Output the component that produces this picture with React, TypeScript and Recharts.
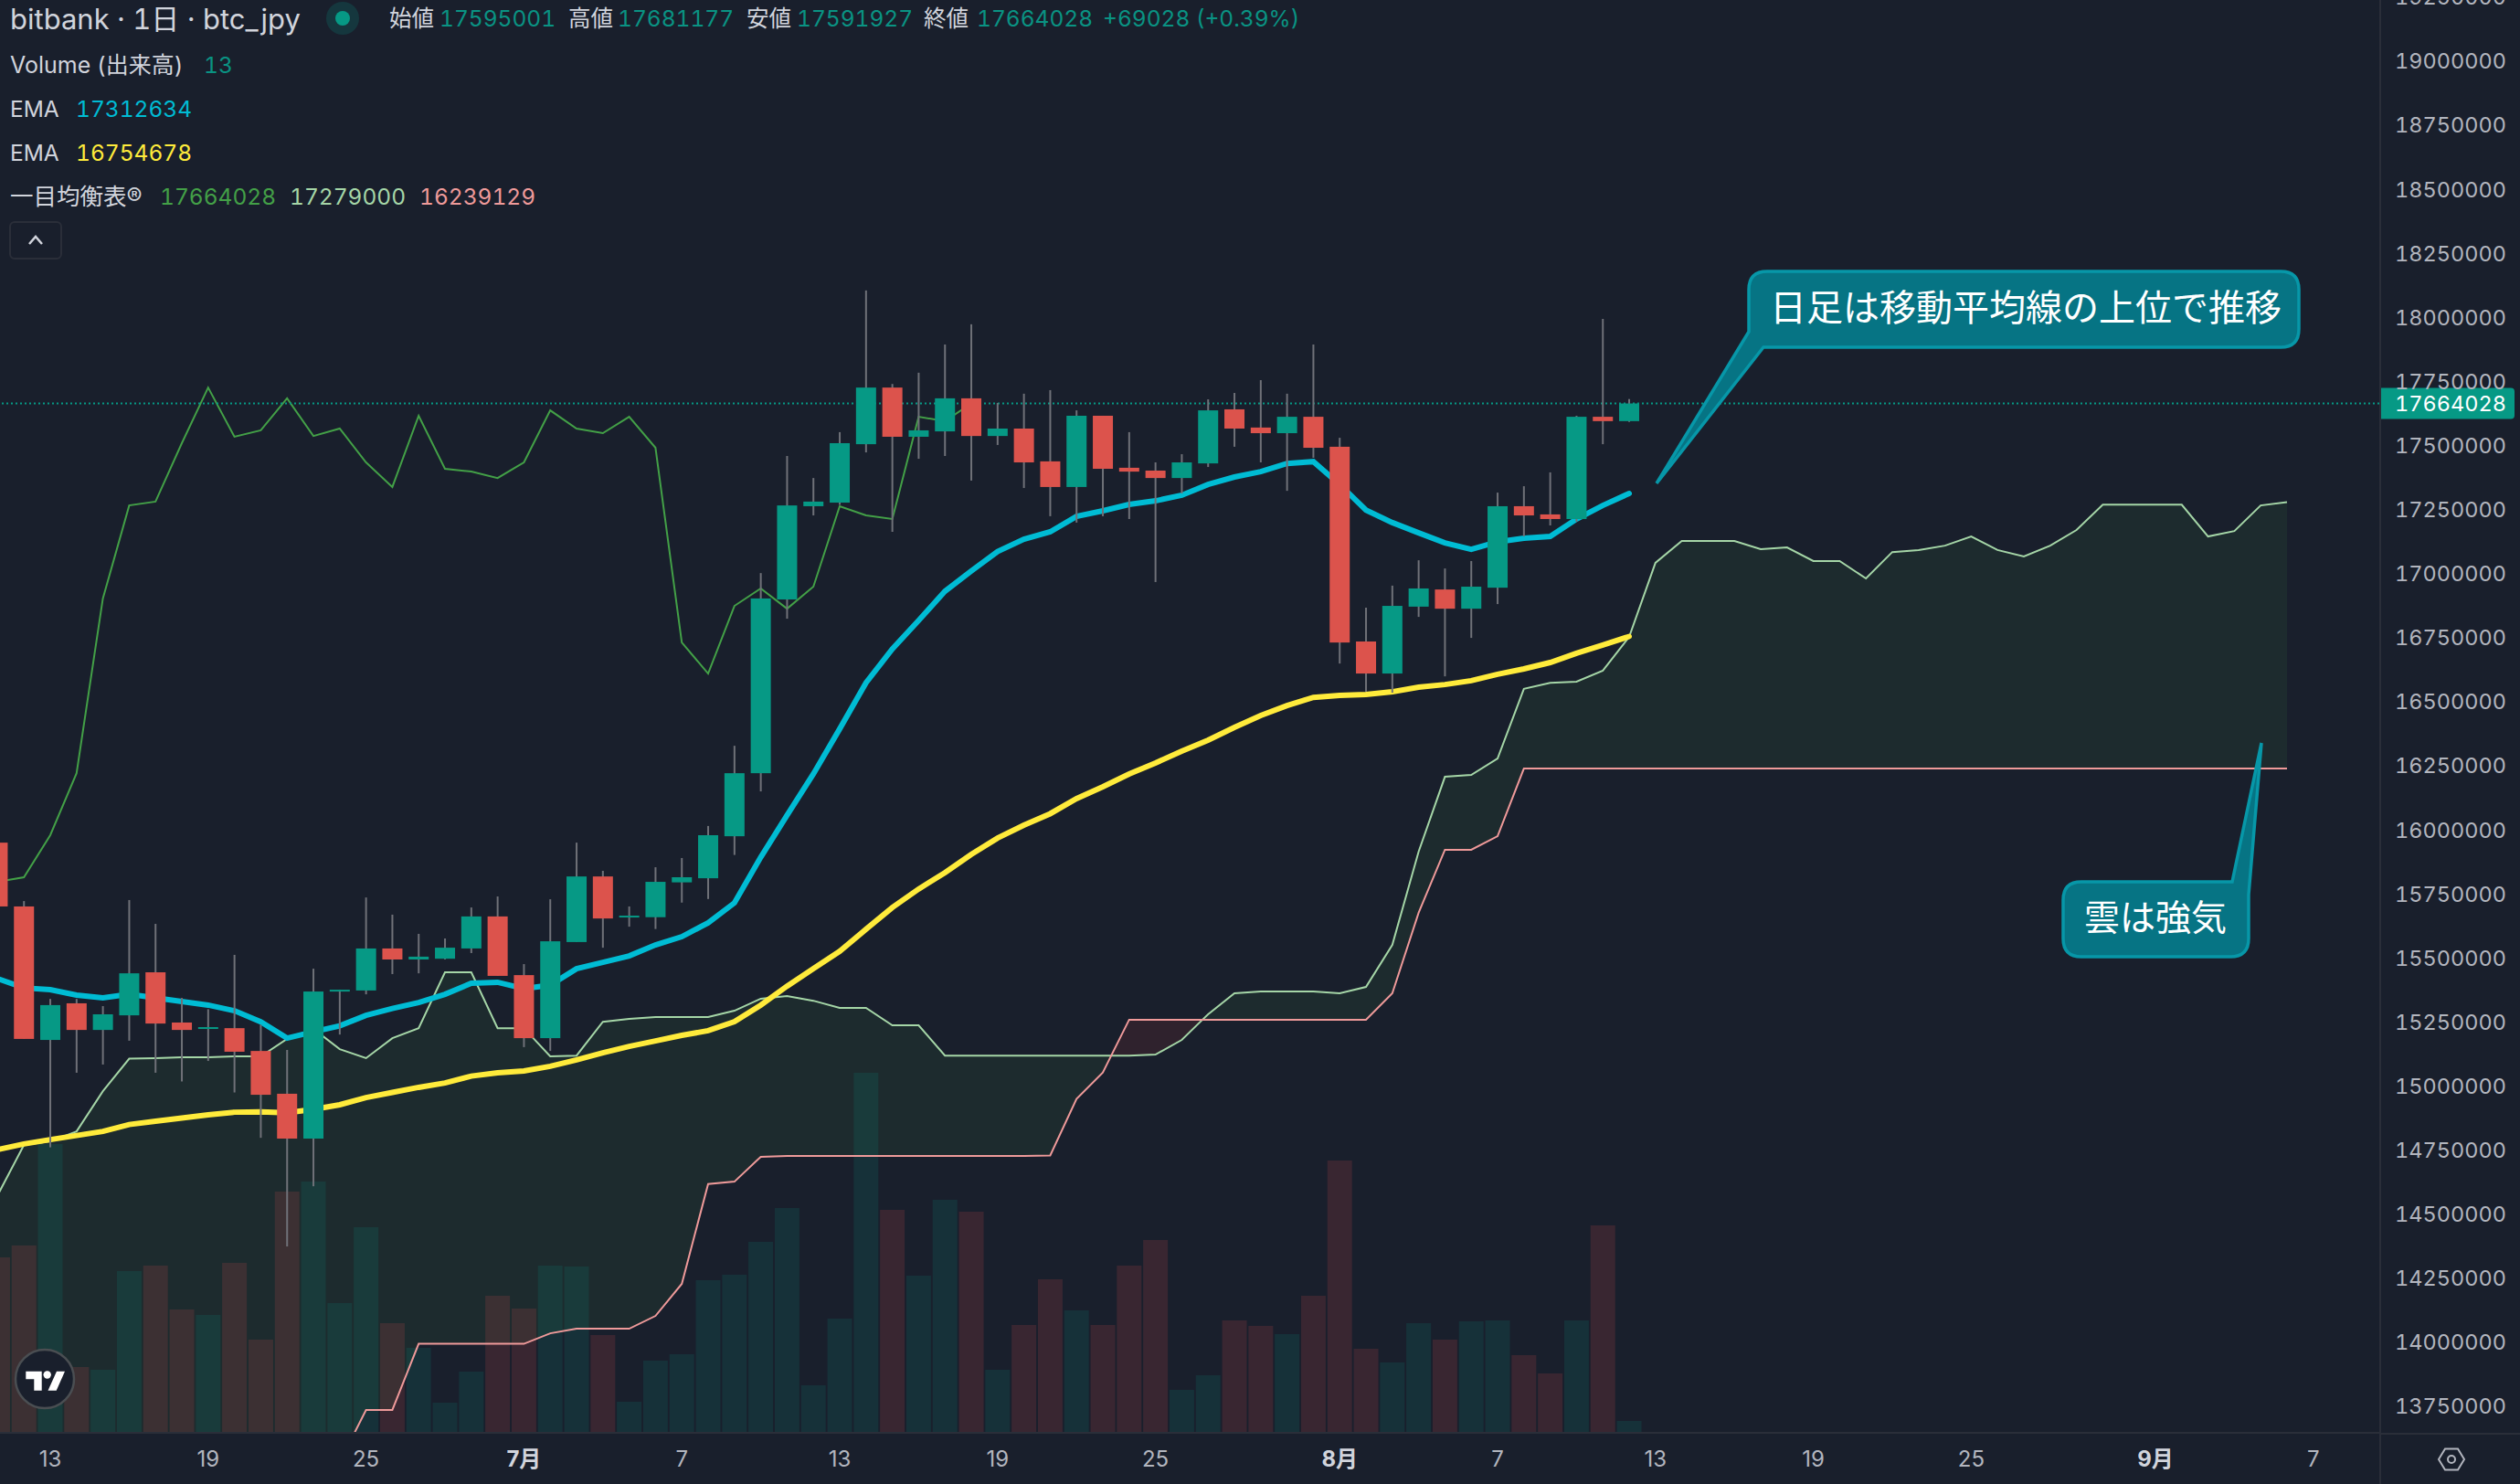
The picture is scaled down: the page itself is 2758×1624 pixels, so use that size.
import { Area, Bar, ComposedChart, Line, ReferenceLine, XAxis, YAxis } from 'recharts';

const FONT = "Inter, 'Noto Sans CJK JP', sans-serif";
const BG = '#191f2c';
const GRID = '#2a2e39';
const UP = '#069985';
const DOWN = '#dc534c';
const AXIS_TEXT = '#b2b5be';
const CANDLE_W = 22;
const VOLUME_W = 27;

// prices are in thousands of yen. every per-day list starts at FIRST_DAY, day 0 = June 13
const FIRST_DAY = -2;
const LAST_PRICE = 17664.028;

// [open, high, low, close]
const ohlc = [
  [15950, 15960, 15701, 15701], [15701, 15722, 15184, 15184], [15180, 15340, 14761, 15316], [15323, 15340, 15052, 15219],
  [15219, 15312, 15084, 15280], [15276, 15726, 15177, 15440], [15444, 15633, 15052, 15244], [15248, 15344, 15018, 15219],
  [15223, 15300, 15098, 15230], [15226, 15512, 14975, 15134], [15137, 15239, 14798, 14966], [14970, 15141, 14374, 14795],
  [14795, 15458, 14609, 15369], [15369, 15376, 15201, 15376], [15373, 15736, 15358, 15537], [15537, 15669, 15437, 15494],
  [15494, 15594, 15440, 15505], [15497, 15576, 15494, 15540], [15537, 15697, 15519, 15662], [15662, 15740, 15430, 15430],
  [15433, 15476, 15152, 15187], [15187, 15729, 15137, 15565], [15562, 15950, 15562, 15818], [15818, 15840, 15540, 15654],
  [15658, 15701, 15622, 15665], [15659, 15854, 15613, 15797], [15795, 15890, 15716, 15815], [15811, 16015, 15730, 15979],
  [15975, 16328, 15902, 16221], [16221, 17002, 16150, 16903], [16899, 17459, 16824, 17266], [17263, 17373, 17227, 17281],
  [17277, 17552, 17268, 17509], [17505, 18105, 17473, 17726], [17726, 17740, 17163, 17534], [17534, 17784, 17448, 17559],
  [17555, 17894, 17459, 17684], [17684, 17973, 17363, 17537], [17537, 17666, 17502, 17566], [17566, 17702, 17334, 17434],
  [17438, 17716, 17224, 17338], [17338, 17637, 17199, 17616], [17616, 17616, 17224, 17409], [17413, 17552, 17213, 17398],
  [17402, 17434, 16967, 17373], [17373, 17466, 17313, 17434], [17430, 17680, 17416, 17637], [17641, 17705, 17495, 17566],
  [17570, 17755, 17434, 17548], [17548, 17702, 17323, 17612], [17612, 17894, 17452, 17491], [17495, 17530, 16649, 16731],
  [16735, 16867, 16539, 16610], [16610, 16953, 16535, 16874], [16871, 17052, 16831, 16942], [16938, 17020, 16599, 16863],
  [16863, 17049, 16749, 16949], [16945, 17316, 16881, 17263], [17263, 17341, 17145, 17227], [17231, 17395, 17188, 17213],
  [17213, 17616, 17202, 17612], [17612, 17994, 17505, 17595], [17595.001, 17681.177, 17591.927, 17664.028],
];

const volume = [
  192, 205, 316, 72, 69, 177, 183, 135, 129, 186, 102, 264, 275, 142, 225, 120, 93, 33, 67, 150, 136,
  183, 182, 107, 34, 79, 86, 167, 173, 209, 246, 52, 125, 394, 244, 172, 255, 242, 69, 118, 168, 134,
  118, 183, 211, 47, 63, 123, 117, 108, 150, 298, 92, 77, 120, 102, 122, 123, 85, 65, 123, 227, 13,
];

const emaFast = [
  15419, 15383, 15376, 15355, 15344, 15358, 15344, 15330, 15316, 15294, 15251, 15187, 15212, 15235, 15276, 15303,
  15326, 15358, 15401, 15405, 15380, 15394, 15458, 15483, 15508, 15551, 15583, 15637, 15715, 15893, 16057, 16218,
  16394, 16574, 16706, 16817, 16931, 17010, 17086, 17134, 17163, 17223, 17245, 17270, 17284, 17306, 17348, 17377,
  17398, 17430, 17437, 17348, 17248, 17199, 17159, 17120, 17095, 17124, 17138, 17145, 17213, 17266, 17312.634,
];

const emaSlow = [
  14752, 14774, 14791, 14807, 14823, 14850, 14863, 14875, 14888, 14898, 14899, 14896, 14909, 14927, 14955, 14975,
  14995, 15012, 15039, 15052, 15059, 15077, 15102, 15130, 15155, 15176, 15198, 15216, 15251, 15316, 15390, 15458,
  15526, 15612, 15697, 15769, 15833, 15904, 15968, 16018, 16063, 16122, 16168, 16218, 16261, 16307, 16350, 16400,
  16446, 16485, 16517, 16525, 16528, 16539, 16557, 16567, 16582, 16607, 16628, 16653, 16689, 16721, 16754.678,
];

const chikou = [
  15797, 15815, 15979, 16221, 16903, 17266, 17281, 17509, 17726, 17534, 17559, 17684, 17537, 17566, 17434, 17338,
  17616, 17409, 17398, 17373, 17434, 17637, 17566, 17548, 17612, 17491, 16731, 16610, 16874, 16942, 16863, 16949,
  17263, 17227, 17213, 17612, 17595, 17664.028,
];

const spanA = [
  14574, 14770, 14784, 14823, 14980, 15107, 15109, 15112, 15112, 15116, 15116, 15184, 15223, 15144, 15109, 15187,
  15226, 15444, 15444, 15226, 15226, 15116, 15119, 15251, 15262, 15269, 15269, 15269, 15294, 15341, 15351, 15333,
  15305, 15305, 15237, 15237, 15119, 15119, 15119, 15119, 15119, 15119, 15119, 15119, 15123, 15180, 15280, 15362,
  15369, 15369, 15369, 15362, 15387, 15551, 15915, 16207, 16214, 16278, 16550, 16574, 16578, 16621, 16753, 17042,
  17127, 17127, 17127, 17095, 17102, 17049, 17049, 16981, 17084, 17092, 17109, 17145, 17092, 17067, 17109, 17170,
  17269, 17269, 17269, 17269, 17145, 17166, 17266, 17279,
];

const spanB = [
  13300, 13300, 13300, 13300, 13300, 13300, 13300, 13300, 13300, 13300, 13300, 13300, 13300, 13532, 13736, 13736,
  13994, 13994, 13994, 13994, 13994, 14035, 14053, 14053, 14053, 14103, 14228, 14618, 14627, 14724, 14727, 14727,
  14727, 14727, 14727, 14727, 14727, 14727, 14727, 14727, 14729, 14950, 15053, 15259, 15259, 15259, 15259, 15259,
  15259, 15259, 15259, 15259, 15259, 15362, 15676, 15922, 15922, 15975, 16239, 16239, 16239, 16239, 16239, 16239,
  16239, 16239, 16239, 16239, 16239, 16239, 16239, 16239, 16239, 16239, 16239, 16239, 16239, 16239, 16239, 16239,
  16239, 16239, 16239, 16239, 16239, 16239, 16239, 16239,
];

// where the two spans cross, so the cloud can change colour there
const crossDays = [40.32, 43.786];
const crossPrices = [15119, 15259];

const priceTicks = [
  13750, 14000, 14250, 14500, 14750, 15000, 15250, 15500, 15750, 16000, 16250, 16500,
  16750, 17000, 17250, 17500, 17750, 18000, 18250, 18500, 18750, 19000, 19250,
];
const tickDays = [0, 6, 12, 18, 24, 30, 36, 42, 49, 55, 61, 67, 73, 80, 86];
const tickLabels = ['13', '19', '25', '7月', '7', '13', '19', '25', '8月', '7', '13', '19', '25', '9月', '7'];

const rows: any[] = spanA.map((a, i) => {
  const day = i + FIRST_DAY;
  const b = spanB[i];
  const c = ohlc[i];
  return {
    day,
    spanA: a,
    spanB: b,
    cloudUp: a >= b ? [b, a] : null,
    cloudDown: a < b ? [a, b] : null,
    chikou: chikou[i] ?? null,
    emaFast: emaFast[i] ?? null,
    emaSlow: emaSlow[i] ?? null,
    volume: volume[i] ?? null,
    open: c ? c[0] : null,
    high: c ? c[1] : null,
    low: c ? c[2] : null,
    close: c ? c[3] : null,
    wick: c ? [c[2], c[1]] : null,
  };
});
crossDays.forEach((day, i) => {
  const v = crossPrices[i];
  rows.push({ day, spanA: v, spanB: v, cloudUp: [v, v], cloudDown: [v, v] });
});
rows.sort((p, q) => p.day - q.day);

// wick + body, both taken from the bar the price scale gave us.
// the crossing rows shrink the band recharts works out, so widths are fixed here
const Candle = (props: any) => {
  const { x, y, width, height, payload } = props;
  if (payload.open == null) return null;
  const { open, high, low, close } = payload;
  const ratio = height / (high - low);
  const up = close >= open;
  const top = y + (high - Math.max(open, close)) * ratio;
  const bodyH = Math.max(Math.abs(open - close) * ratio, 2);
  const cx = x + width / 2;
  return (
    <g>
      <rect x={cx - 1} y={y} width={2} height={height} fill="#6f7178" />
      <rect x={cx - CANDLE_W / 2} y={top} width={CANDLE_W} height={bodyH} fill={up ? UP : DOWN} />
    </g>
  );
};

const VolumeBar = (props: any) => {
  const { x, y, width, height, payload } = props;
  if (payload.open == null) return null;
  const cx = x + width / 2;
  return <rect x={cx - VOLUME_W / 2} y={y} width={VOLUME_W} height={height} fill={payload.close >= payload.open ? UP : '#ef5350'} fillOpacity={0.15} />;
};

const PriceTick = (props: any) => (
  <text x={props.x} y={props.y} dy="0.36em" fontSize={23.5} fontFamily={FONT} fill={AXIS_TEXT} textAnchor="start" style={{ fontVariantNumeric: 'tabular-nums' }}>
    {props.payload.value * 1000}
  </text>
);

const DayTick = (props: any) => {
  const label = tickLabels[tickDays.indexOf(props.payload.value)];
  const bold = label.endsWith('月');
  return (
    <text x={props.x} y={1596 + 40} dy="0.36em" fontSize={24} fontWeight={bold ? 700 : 400} fontFamily={FONT} fill={bold ? '#d1d4dc' : AXIS_TEXT} textAnchor="middle">
      {label}
    </text>
  );
};

const PriceTag = (props: any) => {
  const { x, y, width } = props.viewBox;
  const left = x + width;
  return (
    <g>
      <path d={`M${left},${y - 17} H${left + 144} Q${left + 148},${y - 17} ${left + 148},${y - 13} V${y + 13} Q${left + 148},${y + 17} ${left + 144},${y + 17} H${left} Z`} fill={UP} />
      <text x={left + 17} y={y} dy="0.36em" fontSize={23.5} fontFamily={FONT} fill="#fff" style={{ fontVariantNumeric: 'tabular-nums' }}>
        {Math.round(LAST_PRICE * 1000)}
      </text>
    </g>
  );
};

// legend block, top left
const Txt = ({ x, y, color = '#d1d4dc', size = 24.5, children }: any) => (
  <span style={{ position: 'absolute', left: x, top: y, transform: 'translateY(-50%)', color, fontSize: size, lineHeight: 1, whiteSpace: 'nowrap', fontVariantNumeric: 'tabular-nums' }}>
    {children}
  </span>
);

const Legend = () => {
  const teal = '#0a9383';
  return (
    <div style={{ fontFamily: FONT }}>
      <Txt x={11} y={20} size={31}>bitbank · 1日 · btc_jpy</Txt>
      <Txt x={426} y={20}>始値</Txt><Txt x={481} y={20} color={teal}>17595001</Txt>
      <Txt x={622} y={20}>高値</Txt><Txt x={676} y={20} color={teal}>17681177</Txt>
      <Txt x={817} y={20}>安値</Txt><Txt x={872} y={20} color={teal}>17591927</Txt>
      <Txt x={1011} y={20}>終値</Txt><Txt x={1069} y={20} color={teal}>17664028</Txt>
      <Txt x={1207} y={20} color={teal}>+69028 (+0.39%)</Txt>
      <Txt x={11} y={71} size={25}>Volume (出来高)</Txt><Txt x={223} y={71} color={teal}>13</Txt>
      <Txt x={11} y={119}>EMA</Txt><Txt x={83} y={119} color="#00bcd4">17312634</Txt>
      <Txt x={11} y={167}>EMA</Txt><Txt x={83} y={167} color="#ffeb3b">16754678</Txt>
      <Txt x={11} y={215} size={25.5}>一目均衡表®</Txt>
      <Txt x={175} y={215} color="#43a047">17664028</Txt>
      <Txt x={317} y={215} color="#a5d6a7">17279000</Txt>
      <Txt x={459} y={215} color="#ef9a9a">16239129</Txt>
    </div>
  );
};

// callouts, buttons and the logo sit on top of the chart
const Overlay = () => (
  <svg width={2758} height={1624} style={{ position: 'absolute', left: 0, top: 0 }} fontFamily={FONT}>
    <rect x={2604} y={0} width={2} height={1624} fill={GRID} />
    <rect x={2604} y={1568} width={154} height={2} fill={GRID} />

    <rect x={11} y={243} width={56} height={40} rx={5} fill="none" stroke={GRID} strokeWidth={2} />
    <polyline points="32,267 39,259 46,267" fill="none" stroke="#d1d4dc" strokeWidth={2.5} />
    <circle cx={375} cy={20} r={18} fill={UP} fillOpacity={0.2} />
    <circle cx={375} cy={20} r={8} fill={UP} />

    <path d="M1934,297 H2496 Q2516,297 2516,317 V360 Q2516,380 2496,380 H1930 L1813,529 L1914,363 V317 Q1914,297 1934,297 Z" fill="#067484" stroke="#0797a8" strokeWidth={3.5} />
    <text x={2217} y={337} dy="0.36em" fontSize={40} fill="#fff" textAnchor="middle">日足は移動平均線の上位で推移</text>
    <path d="M2278,965 H2443 L2475,813 L2461,979 V1027 Q2461,1047 2441,1047 H2278 Q2258,1047 2258,1027 V985 Q2258,965 2278,965 Z" fill="#067484" stroke="#0797a8" strokeWidth={3.5} />
    <text x={2359} y={1004} dy="0.36em" fontSize={39} fill="#fff" textAnchor="middle">雲は強気</text>

    <circle cx={49} cy={1509} r={32} fill={BG} stroke="#4a4e52" strokeWidth={2.5} />
    <path d="M28.3,1500.7 H45.7 V1521.7 H37.3 V1509.3 H28.3 Z" fill="#fff" />
    <circle cx={51.7} cy={1504.5} r={4.2} fill="#fff" />
    <path d="M62,1500.7 H71 L61.7,1521.7 H52.5 Z" fill="#fff" />

    <path d="M2669,1597 L2676,1585.5 H2690 L2697,1597 L2690,1608.5 H2676 Z" fill="none" stroke={AXIS_TEXT} strokeWidth={2} />
    <circle cx={2683} cy={1597} r={4} fill="none" stroke={AXIS_TEXT} strokeWidth={2} />
  </svg>
);

export default function App() {
  return (
    <div style={{ position: 'absolute', left: 0, top: 0, width: 2758, height: 1624, overflow: 'hidden', background: BG }}>
      <div style={{ position: 'absolute', left: 0, top: -40 }}>
        <ComposedChart width={2758} height={1664} data={rows} margin={{ top: 0, right: 0, bottom: 0, left: 0 }}>
          <XAxis xAxisId="price" dataKey="day" type="number" domain={[-1.9097, 88.507]} allowDataOverflow ticks={tickDays} interval={0} height={56} tick={<DayTick />} tickLine={false} axisLine={{ stroke: GRID, strokeWidth: 2 }} />
          <XAxis xAxisId="vol" dataKey="day" type="number" domain={[-1.9097, 88.507]} allowDataOverflow hide />
          <YAxis yAxisId="price" orientation="right" type="number" domain={[13646.7, 19381.2]} allowDataOverflow ticks={priceTicks} interval={0} width={154} tick={<PriceTick />} tickLine={false} tickSize={0} tickMargin={17} axisLine={false} />
          <YAxis yAxisId="vol" type="number" domain={[0, 1608]} allowDataOverflow hide />

          <Bar xAxisId="vol" yAxisId="vol" dataKey="volume" shape={<VolumeBar />} isAnimationActive={false} />
          <Area xAxisId="price" yAxisId="price" dataKey="cloudUp" type="linear" fill="#43a047" fillOpacity={0.1} stroke="none" dot={false} activeDot={false} isAnimationActive={false} />
          <Area xAxisId="price" yAxisId="price" dataKey="cloudDown" type="linear" fill="#f44336" fillOpacity={0.1} stroke="none" dot={false} activeDot={false} isAnimationActive={false} />
          <Line xAxisId="price" yAxisId="price" dataKey="spanA" type="linear" stroke="#a5d6a7" strokeWidth={2} dot={false} activeDot={false} isAnimationActive={false} />
          <Line xAxisId="price" yAxisId="price" dataKey="spanB" type="linear" stroke="#ef9a9a" strokeWidth={2} dot={false} activeDot={false} isAnimationActive={false} />
          <Line xAxisId="price" yAxisId="price" dataKey="chikou" type="linear" connectNulls stroke="#43a047" strokeWidth={2} dot={false} activeDot={false} isAnimationActive={false} />
          <Line xAxisId="price" yAxisId="price" dataKey="emaSlow" type="linear" connectNulls stroke="#ffeb3b" strokeWidth={6} strokeLinecap="round" dot={false} activeDot={false} isAnimationActive={false} />
          <Line xAxisId="price" yAxisId="price" dataKey="emaFast" type="linear" connectNulls stroke="#00bcd4" strokeWidth={6} strokeLinecap="round" dot={false} activeDot={false} isAnimationActive={false} />
          <Bar xAxisId="price" yAxisId="price" dataKey="wick" shape={<Candle />} zIndex={450} isAnimationActive={false} />
          <ReferenceLine xAxisId="price" yAxisId="price" y={LAST_PRICE} stroke={UP} strokeWidth={2} strokeDasharray="2 3" label={<PriceTag />} />
        </ComposedChart>
      </div>
      <Legend />
      <Overlay />
    </div>
  );
}
